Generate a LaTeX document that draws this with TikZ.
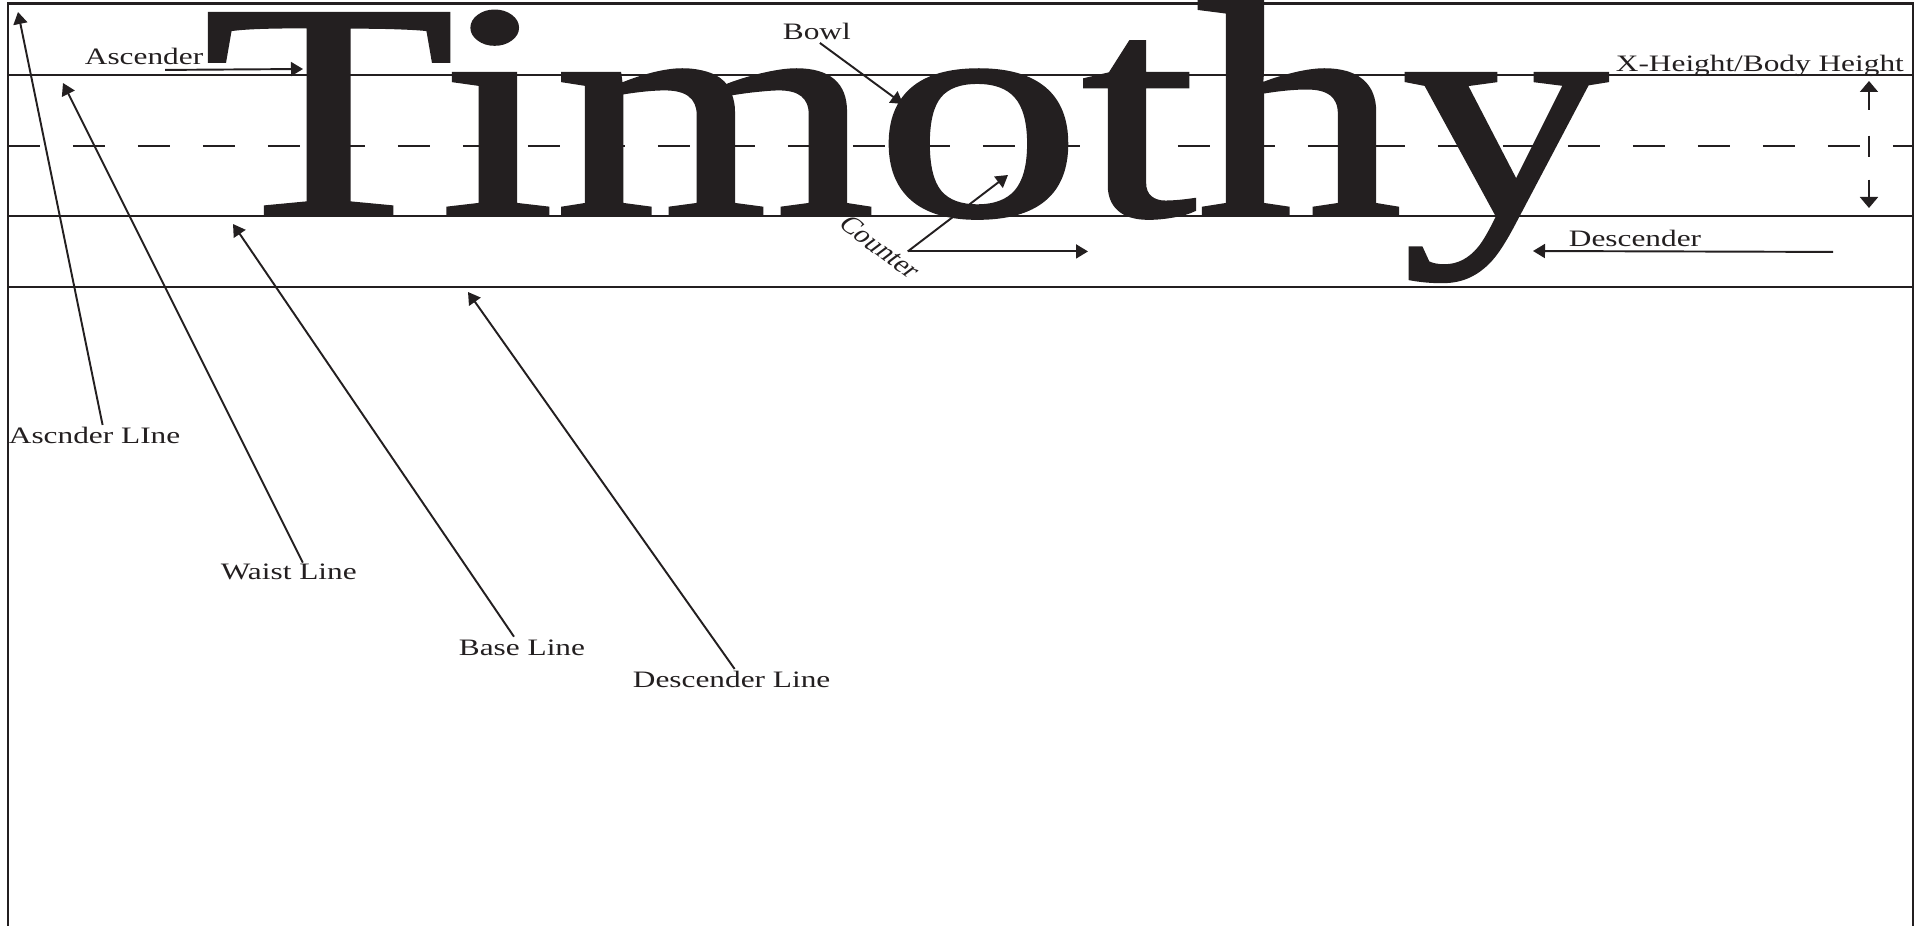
\documentclass[tikz,border=0pt]{standalone}
\usepackage{fontspec}
\setmainfont{Liberation Serif}
\newfontfamily\wordfont{Liberation Serif}[RawFeature={embolden=1.2}]
\usepackage{xcolor}
\usetikzlibrary{arrows.meta}
\definecolor{ink}{HTML}{231F20}

\begin{document}
\begin{tikzpicture}[
    x=0.1mm, y=-0.1mm,
    guide/.style={draw=ink, line width=0.65pt},
    lbl/.style={anchor=base west, inner sep=0pt, text=ink, font=\fontsize{6.7pt}{8pt}\selectfont, xscale=1.33, transform shape},
    arrow/.style={draw=ink, line width=0.55pt, -{Triangle[length=1.2mm, width=1.4mm]}},
    bothway/.style={draw=ink, line width=0.55pt, {Triangle[length=1.1mm, width=1.8mm]}-{Triangle[length=1.1mm, width=1.8mm]}, dash pattern=on 1.8mm off 2.6mm on 2.1mm off 2.3mm on 2mm}
]
\useasboundingbox (0,0) rectangle (1931,926);

% Frame and guide lines
\draw[guide] (8,926) -- (8,3.5) -- (1913,3.5) -- (1913,926);
\draw[guide] (8,75) -- (1913,75);
\draw[guide, dash pattern=on 3.2mm off 3.3mm] (8,146) -- (1913,146);
\draw[guide] (8,216) -- (1913,216);
\draw[guide] (8,287) -- (1913,287);

% Sample word
\node[anchor=base west, inner sep=0pt, text=ink, font=\wordfont\fontsize{87.5pt}{90pt}\selectfont, xscale=1.34, transform shape] (word) at (202,215) {Timothy};

% Labels
\node[lbl] (asc) at (84,65) {Ascender};
\node[lbl] (bowl) at (782,40) {Bowl};
\node[lbl] (xh) at (1615,72) {X-Height/Body Height};
\node[lbl] (dsc) at (1568,247) {Descender};
\node[lbl, anchor=center, rotate=-45, inner sep=0.3mm] (cnt) at (880,247) {Counter};
\node[lbl] (ascl) at (8,444) {Ascnder LIne};
\node[lbl] (waist) at (220,579) {Waist Line};
\node[lbl] (base) at (458,655) {Base Line};
\node[lbl] (descl) at (632,687) {Descender Line};

% Arrow targets
\coordinate (asc-tip) at (303,69);
\coordinate (bowl-tip) at (903,104);
\coordinate (cnt-tip) at (1008,175);
\coordinate (cnt-end) at (1088,251);
\coordinate (dsc-tip) at (1533,251);
\coordinate (xh-top) at (1869,81);
\coordinate (xh-bot) at (1869,208);
\coordinate (ascl-tip) at (18,12);
\coordinate (waist-tip) at (63,83);
\coordinate (base-tip) at (233,224);
\coordinate (descl-tip) at (468,292);

% Arrows
\draw[arrow] ([shift={(21,4)}]asc.south) -- (asc-tip);
\draw[arrow] ([shift={(3,2)}]bowl.south) -- (bowl-tip);
\draw[arrow] (cnt.33) -- (cnt-tip);
\draw[arrow] (cnt.33) -- (cnt.33 -| cnt-end);
\draw[arrow] ([shift={(131,4)}]dsc.south east) -- (dsc-tip);
\draw[bothway] (xh-top) -- (xh-bot);
\draw[arrow] ([shift={(8,-2)}]ascl.north) -- (ascl-tip);
\draw[arrow] ([shift={(14,0)}]waist.north) -- (waist-tip);
\draw[arrow] ([shift={(-8,-2)}]base.north) -- (base-tip);
\draw[arrow] ([shift={(3,-1)}]descl.north) -- (descl-tip);
\end{tikzpicture}
\end{document}
